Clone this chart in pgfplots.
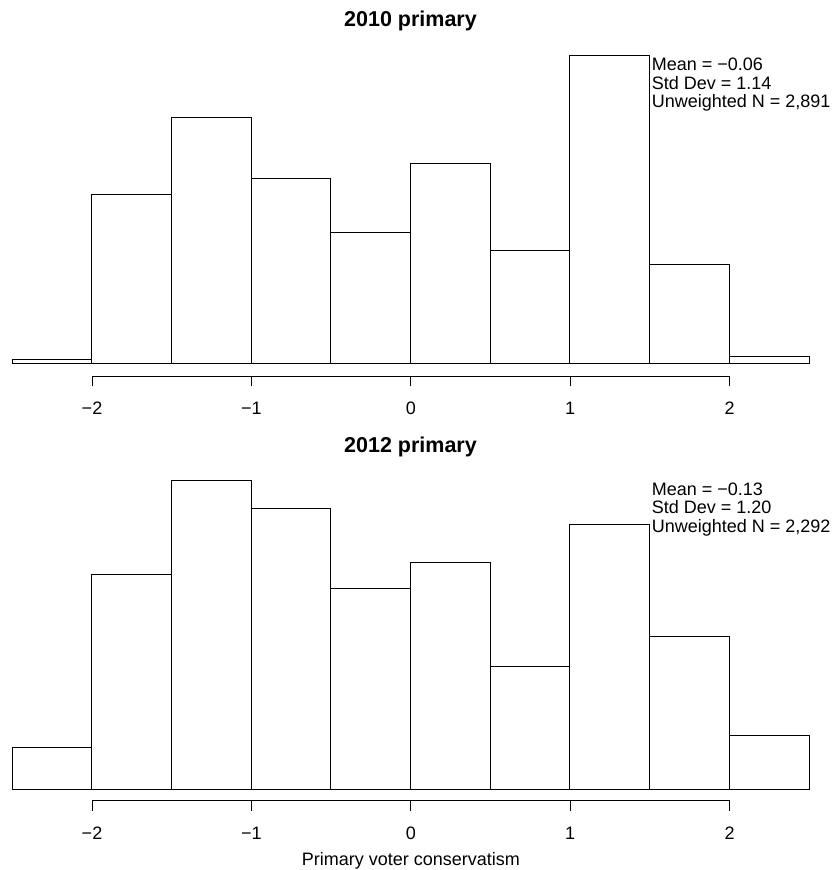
\documentclass[border=0pt]{standalone}
\usepackage{pgfplots}
\pgfplotsset{compat=1.18}
\usepackage{fontspec}
\setmainfont{Liberation Sans}
\pgfplotstableread{
x y
-2.5 4
-2.0 169.3
-1.5 246.3
-1.0 185.3
-0.5 131.3
0.0 200.3
0.5 113.3
1.0 308.3
1.5 99.3
2.0 7
2.5 0
}\histA
\pgfplotstableread{
x y
-2.5 42
-2.0 215
-1.5 309
-1.0 281
-0.5 201
0.0 227
0.5 123
1.0 265
1.5 153
2.0 54
2.5 0
}\histB
\pgfplotsset{
  bars/.style={scale only axis, width=797bp, height=320bp,
    xmin=-2.5, xmax=2.5, ymin=0, ymax=320, hide axis, clip=false,
    anchor=south west},
  tickaxis/.style={scale only axis, width=637.6bp, height=1bp,
    xmin=-2, xmax=2, ymin=0, ymax=1, anchor=south west,
    axis x line=bottom, hide y axis, x axis line style={-, line width=0.9bp},
    xtick={-2,-1,0,1,2}, xticklabels={−2,−1,0,1,2},
    tick align=outside, major tick length=10.5bp,
    tick style={black, line width=0.9bp},
    xticklabel style={anchor=base, yshift=-28.5bp, inner sep=0pt},
    clip=false},
}
\begin{document}
\fontsize{18bp}{21.6bp}\selectfont
\begin{tikzpicture}
\useasboundingbox (0,0) rectangle (837bp,870bp);
% top panel
\begin{axis}[bars, at={(12bp,506.7bp)}]
\addplot[ybar interval, fill=white, draw=black, line width=0.9bp] table[x=x,y=y] {\histA};
\node[anchor=base, font=\bfseries\fontsize{21.5bp}{26bp}\selectfont] at (axis cs:0,336.3) {2010 primary};
\node[anchor=base west, inner sep=0pt, xshift=2bp] at (axis cs:1.5,292.3) {Mean = −0.06};
\node[anchor=base west, inner sep=0pt, xshift=2bp] at (axis cs:1.5,274) {Std Dev = 1.14};
\node[anchor=base west, inner sep=0pt, xshift=2bp] at (axis cs:1.5,255.6) {Unweighted N = 2,891};
\end{axis}
\begin{axis}[tickaxis, at={(92bp,494bp)}]
\end{axis}
% bottom panel
\begin{axis}[bars, at={(12bp,81bp)}]
\addplot[ybar interval, fill=white, draw=black, line width=0.9bp] table[x=x,y=y] {\histB};
\node[anchor=base, font=\bfseries\fontsize{21.5bp}{26bp}\selectfont] at (axis cs:0,336.3) {2012 primary};
\node[anchor=base west, inner sep=0pt, xshift=2bp] at (axis cs:1.5,293.3) {Mean = −0.13};
\node[anchor=base west, inner sep=0pt, xshift=2bp] at (axis cs:1.5,275) {Std Dev = 1.20};
\node[anchor=base west, inner sep=0pt, xshift=2bp] at (axis cs:1.5,256.7) {Unweighted N = 2,292};
\end{axis}
\begin{axis}[tickaxis, at={(92bp,69.3bp)}]
\node[anchor=base] at (axis cs:0,-64.3) {Primary voter conservatism};
\end{axis}
\end{tikzpicture}
\end{document}
